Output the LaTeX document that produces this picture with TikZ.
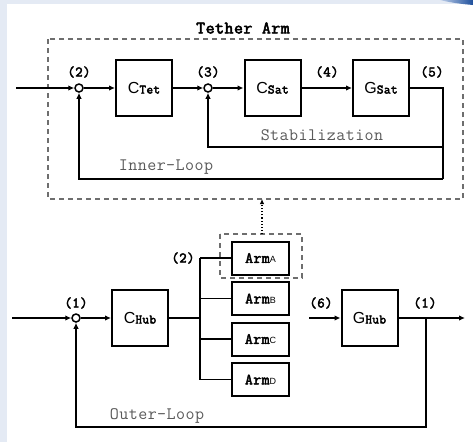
\documentclass[tikz,border=0pt]{standalone}
\usepackage{fontspec}
\setmainfont{Liberation Sans}
% typewriter faces with slab serifs, tracked out to a Courier-like pitch
\newfontfamily\monofont[LetterSpace=2.5]{Latin Modern Mono}
\newfontfamily\monobold[LetterSpace=2.5, FakeBold=3]{Latin Modern Mono}
\usetikzlibrary{arrows.meta}

\definecolor{framebg}{HTML}{E4EAF4}
\definecolor{loopgray}{HTML}{5A5A5A}
\definecolor{dashgray}{HTML}{6E6E6E}
\definecolor{swooshdark}{HTML}{1E4F9C}
\definecolor{swooshlight}{HTML}{BFD0EA}

% block captions: a sans letter followed by a bold mono tag on the same baseline
\newcommand\blocktxt[2]{{\fontsize{16}{16}\selectfont #1}{\monobold\fontsize{13}{13}\selectfont #2}}
\newcommand\armtxt[1]{{\monobold\fontsize{15.5}{15.5}\selectfont Arm}{\fontsize{9}{9}\selectfont #1}}

\tikzset{
  blockbox/.style={draw, line width=2pt, minimum width=56pt, minimum height=56pt, inner sep=0pt, fill=white},
  armbox/.style={draw, line width=2pt, minimum width=57pt, minimum height=33pt, inner sep=0pt, fill=white},
  sumpt/.style={circle, draw, line width=1.5pt, minimum size=8pt, inner sep=0pt, fill=white},
  wire/.style={line width=1.5pt},
  sig/.style={wire, -{Latex[length=6pt,width=5.5pt]}},
  portlabel/.style={font=\monobold\fontsize{14.5}{14.5}\selectfont, inner sep=0pt},
  looplabel/.style={font=\monofont\fontsize{17.5}{17.5}\selectfont, text=loopgray, inner sep=0pt},
  titlelabel/.style={font=\monobold\fontsize{17.5}{17.5}\selectfont, inner sep=0pt},
  groupframe/.style={draw=dashgray, line width=1.1pt, dash pattern=on 5pt off 4pt},
  linkarrow/.style={line width=1.1pt, dotted, -{Latex[length=5pt,width=4.5pt]}},
}

\begin{document}
\begin{tikzpicture}[x=1pt,y=-1pt]
  % page background with the light frame strip and corner swoosh
  \useasboundingbox (0,0) rectangle (473,442);
  \fill[framebg] (0,0) rectangle (473,442);
  \fill[white] (7,4) rectangle (473,442);
  \shade[left color=swooshlight, right color=swooshdark]
    (440,0) .. controls (452,3) and (462,4) .. (473,5) -- (473,0) -- cycle;

  % ---------- tether arm (upper group) ----------
  \node[titlelabel] (title) at (243,28) {Tether Arm};
  \draw[groupframe] (48,39) rectangle (463,199);
  \coordinate (framebot) at (262,199);

  \coordinate (in2) at (16,88);
  \node[sumpt] (s2) at (79,88) {};
  \node[blockbox] (ctet) at (144,88) {\blocktxt{C}{Tet}};
  \node[sumpt] (s3) at (208,88) {};
  \node[blockbox] (csat) at (272.5,88) {\blocktxt{C}{Sat}};
  \node[blockbox] (gsat) at (381,88) {\blocktxt{G}{Sat}};
  \coordinate (out5) at (443,88);
  \coordinate (tapstab) at (443,147);
  \coordinate (tapinner) at (443,179);

  \node[portlabel] (l2) at (79,72) {(2)};
  \node[portlabel] (l3) at (208,72) {(3)};
  \node[portlabel] (l4) at (327,72) {(4)};
  \node[portlabel] (l5) at (432,72) {(5)};

  \draw[sig] (in2) -- (s2);
  \draw[sig] (s2) -- (ctet);
  \draw[sig] (ctet) -- (s3);
  \draw[sig] (s3) -- (csat);
  \draw[sig] (csat) -- (gsat);
  \draw[wire] (gsat) -- (out5) -- (tapinner);
  \draw[sig] (tapstab) -| (s3);
  \draw[sig] (tapinner) -| (s2);

  \node[looplabel] (stab) at (322,135) {Stabilization};
  \node[looplabel] (inner) at (166,167) {Inner-Loop};

  % ---------- hub with its four arms (lower part) ----------
  \coordinate (in1) at (12,318);
  \node[sumpt] (s1) at (76,318) {};
  \node[blockbox] (chub) at (140,318) {\blocktxt{C}{Hub}};
  \coordinate (bus) at (200,318);
  \coordinate (busA) at (200,258);
  \coordinate (busB) at (200,298.5);
  \coordinate (busC) at (200,339);
  \coordinate (busD) at (200,379.5);
  \node[armbox] (armA) at (260.5,258) {\armtxt{A}};
  \node[armbox] (armB) at (260.5,298.5) {\armtxt{B}};
  \node[armbox] (armC) at (260.5,339) {\armtxt{C}};
  \node[armbox] (armD) at (260.5,379.5) {\armtxt{D}};
  \draw[groupframe] (220,234) rectangle (302,278);
  \coordinate (armframetop) at (262,234);

  \coordinate (in6) at (309,318);
  \node[blockbox] (ghub) at (369.5,318) {\blocktxt{G}{Hub}};
  \coordinate (out1) at (465,318);
  \coordinate (tapout) at (426,318);
  \coordinate (tapbot) at (426,427);

  \node[portlabel] (l1a) at (76,303) {(1)};
  \node[portlabel] (l2b) at (183,258) {(2)};
  \node[portlabel] (l6) at (321,303) {(6)};
  \node[portlabel] (l1b) at (425,303) {(1)};

  \draw[sig] (in1) -- (s1);
  \draw[sig] (s1) -- (chub);
  \draw[wire] (chub) -- (bus);
  \draw[wire] (busA) -- (busD);
  \draw[wire] (busA) -- (armA);
  \draw[wire] (busB) -- (armB);
  \draw[wire] (busC) -- (armC);
  \draw[wire] (busD) -- (armD);
  \draw[sig] (in6) -- (ghub);
  \draw[sig] (ghub) -- (out1);
  \draw[sig] (tapout) -- (tapbot) -| (s1);

  \node[looplabel] (outer) at (157,416) {Outer-Loop};

  % arm A expands into the tether arm group
  \draw[linkarrow] (armframetop) -- (framebot);
\end{tikzpicture}
\end{document}
